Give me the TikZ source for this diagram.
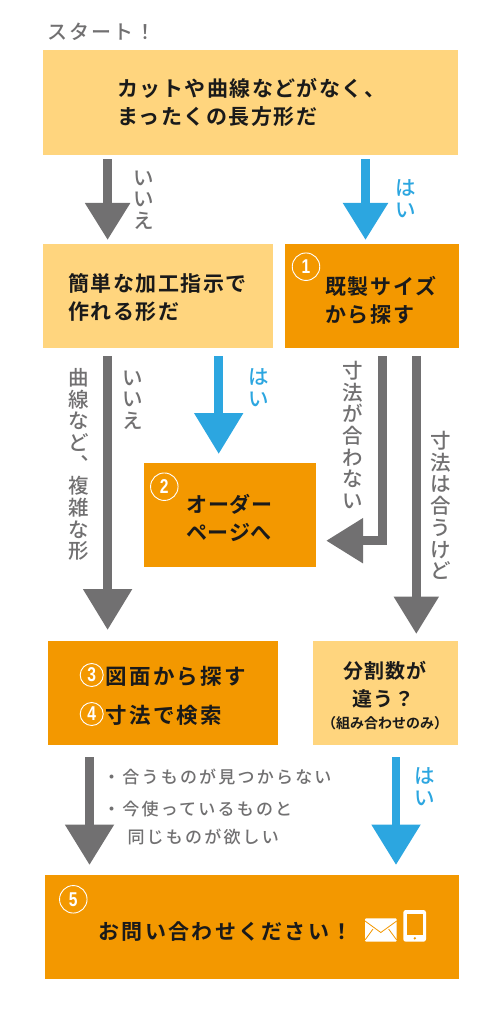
\documentclass[tikz,border=0pt]{standalone}
\usepackage{fontspec}
\usetikzlibrary{arrows.meta}
\setmainfont{Liberation Sans}
\newfontfamily\jpb{Noto Sans CJK JP Bold}
\newfontfamily\jpm{Noto Sans CJK JP Medium}
\newfontfamily\jpv[RawFeature=+vert]{Noto Sans CJK JP Medium}
\definecolor{lightbox}{HTML}{FFD57E}
\definecolor{orangebox}{HTML}{F39800}
\definecolor{grayc}{HTML}{717071}
\definecolor{bluec}{HTML}{2CA6E0}
\definecolor{inkc}{HTML}{1A1A1A}
\tikzset{
  lightb/.style={fill=lightbox,inner sep=0,anchor=north west},
  orangeb/.style={fill=orangebox,inner sep=0,anchor=north west},
  lab/.style={inner sep=0,anchor=west,text=inkc,yshift=-1pt},
  labc/.style={lab,anchor=center},
  big/.style 2 args={text height=.88*#1pt,text depth=.12*#1pt,font=\jpb\fontsize{#1}{24}\selectfont\addfontfeature{LetterSpace=#2}},
  vlab/.style={inner sep=0,align=center,anchor=center,yshift=-1pt,font=\jpm\fontsize{20.5}{21.7}\selectfont},
  grayv/.style={vlab,text=grayc},
  bluev/.style={vlab,text=bluec},
  grayt/.style={lab,text=grayc,text height=15pt,text depth=2pt,font=\jpm\fontsize{17}{20}\selectfont\addfontfeature{LetterSpace=13}},
  num/.style={circle,draw=white,line width=.9pt,inner sep=0,text=white,font=\bfseries\fontsize{20}{20}\selectfont},
  garrow/.style 2 args={draw=grayc,line width=8.7pt,-{Triangle[width=#1pt,length=#2pt,fill=grayc]}},
  barrow/.style 2 args={draw=bluec,line width=8.7pt,-{Triangle[width=#1pt,length=#2pt,fill=bluec]}},
}
\newcommand{\cdig}[1]{\scalebox{.78}[1]{#1}}
\begin{document}
\begin{tikzpicture}[x=1pt,y=-1pt]
\useasboundingbox (0,0) rectangle (500,1024);
% boxes
\node[lightb,minimum width=414.5pt,minimum height=104.5pt] (top) at (43,50) {};
\node[lightb,minimum width=230pt,minimum height=104pt] (easy) at (43,244) {};
\node[orangeb,minimum width=174pt,minimum height=104pt] (stock) at (285,244) {};
\node[orangeb,minimum width=172pt,minimum height=104pt] (order) at (143.5,463) {};
\node[orangeb,minimum width=230pt,minimum height=104pt] (draw) at (48,641) {};
\node[lightb,minimum width=145.5pt,minimum height=104pt] (split) at (312.5,641) {};
\node[orangeb,minimum width=414.5pt,minimum height=104pt] (ask) at (44.5,875) {};
% column coordinates
\coordinate (c1) at (107.6,0);
\coordinate (c2) at (365.5,0);
\coordinate (c3) at (218.7,0);
\coordinate (c4) at (416.3,0);
\coordinate (c5) at (89.5,0);
\coordinate (c6) at (396,0);
\coordinate (e1) at (382.4,540.7);
% connectors
\draw[garrow={43}{37},shorten <=4.5pt,shorten >=4pt] (top.south -| c1) -- (easy.north -| c1);
\draw[barrow={43}{37},shorten <=4.5pt,shorten >=4pt] (top.south -| c2) -- (stock.north -| c2);
\draw[garrow={47}{41},shorten <=8pt,shorten >=11pt] (easy.south -| c1) -- (draw.north -| c1);
\draw[barrow={47}{41},shorten <=8pt,shorten >=9pt] (easy.south -| c3) -- (order.north -| c3);
\draw[garrow={43}{37},shorten <=8pt,shorten >=10.2pt,line join=miter] (stock.south -| e1) |- (order.east |- e1);
\draw[garrow={43}{37.5},shorten <=8pt,shorten >=7pt] (stock.south -| c4) -- (split.north -| c4);
\draw[garrow={47}{40.5},shorten <=11.7pt,shorten >=10pt] (draw.south -| c5) -- (ask.north -| c5);
\draw[barrow={47}{40.5},shorten <=11.7pt,shorten >=10pt] (split.south -| c6) -- (ask.north -| c6);
% start
\node[lab,text=grayc,text height=17.6pt,text depth=2.4pt,font=\jpm\fontsize{20}{24}\selectfont\addfontfeature{LetterSpace=10}] (start) at (47,31) {スタート！};
% box texts
\node[lab,big={21}{7}] (t1a) at (117,88) {カットや曲線などがなく、};
\node[lab,big={21}{7}] (t1b) at (117,116) {まったくの長方形だ};
\node[lab,big={21}{7}] (t2a) at (68,283) {簡単な加工指示で};
\node[lab,big={21}{7}] (t2b) at (68,311) {作れる形だ};
\node[lab,big={21}{8}] (t3a) at (325,285.7) {既製サイズ};
\node[lab,big={21}{8}] (t3b) at (325,314) {から探す};
\node[lab,big={21}{3}] (t4a) at (186.5,504) {オーダー};
\node[lab,big={21}{3}] (t4b) at (186,531.7) {ページへ};
\node[lab,big={21.5}{10}] (t5a) at (105.7,675.7) {図面から探す};
\node[lab,big={21.5}{10}] (t5b) at (105.7,714.3) {寸法で検索};
\node[labc,big={20}{4}] (t6a) at (385,670) {分割数が};
\node[labc,big={20}{4}] (t6b) at (383.3,698.3) {違う？};
\node[labc,big={14}{0}] (t6c) at (385,721.7) {（組み合わせのみ）};
\node[lab,big={21}{11}] (t7) at (98.3,931) {お問い合わせください！};
% vertical labels
\node[grayv] (v1) at (143.3,199) {い\\い\\え};
\node[bluev] (v2) at (405.3,198) {は\\い};
\node[grayv] (v3) at (78.7,463.5) {曲\\線\\な\\ど\\{\jpv 、}\\複\\雑\\な\\形};
\node[grayv] (v4) at (132.7,399) {い\\い\\え};
\node[bluev] (v5) at (258.7,387) {は\\い};
\node[grayv] (v6) at (352.3,434) {寸\\法\\が\\合\\わ\\な\\い};
\node[grayv] (v7) at (440.7,504.5) {寸\\法\\は\\合\\う\\け\\ど};
\node[bluev] (v8) at (425,786) {は\\い};
% grey notes
\node[grayt] (n1) at (103,775.7) {・合うものが見つからない};
\node[grayt] (n2) at (103,807.7) {・今使っているものと};
\node[grayt] (n3) at (127.3,835.7) {同じものが欲しい};
% numbers
\node[num,minimum size=27.5pt] (m1) at (306,266.7) {\cdig{1}};
\node[num,minimum size=27.5pt] (m2) at (164.3,486.7) {\cdig{2}};
\node[num,minimum size=23pt] (m3) at (91.7,675) {\cdig{3}};
\node[num,minimum size=23pt] (m4) at (91.7,714) {\cdig{4}};
\node[num,minimum size=27.5pt] (m5) at (73.3,899.3) {\cdig{5}};
% icons
\fill[white,rounded corners=1pt] (365,918.3) rectangle (396.7,941.7);
\draw[orangebox,line width=.8pt] (365,921) -- (380.8,932.5) -- (396.7,921);
\draw[orangebox,line width=.8pt] (365,940) -- (373,929);
\draw[orangebox,line width=.8pt] (396.7,940) -- (388.6,929);
\fill[white,rounded corners=2.5pt] (403.3,910) rectangle (426,941.7);
\fill[orangebox] (407,914.3) rectangle (422.5,935);
\fill[orangebox] (414.8,938.3) circle (1.3);
\end{tikzpicture}
\end{document}
